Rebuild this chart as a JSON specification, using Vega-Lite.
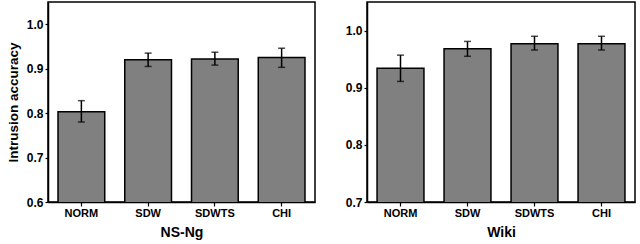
{
  "$schema": "https://vega.github.io/schema/vega-lite/v6.json",
  "padding": {"left": 5, "top": 1, "right": 1, "bottom": 0},
  "autosize": {"type": "pad"},
  "datasets": {
    "nsng": [
      {"method": "NORM", "acc": 0.803, "lo": 0.780, "hi": 0.828},
      {"method": "SDW", "acc": 0.920, "lo": 0.905, "hi": 0.935},
      {"method": "SDWTS", "acc": 0.922, "lo": 0.908, "hi": 0.937},
      {"method": "CHI", "acc": 0.925, "lo": 0.903, "hi": 0.946}
    ],
    "wiki": [
      {"method": "NORM", "acc": 0.934, "lo": 0.911, "hi": 0.957},
      {"method": "SDW", "acc": 0.968, "lo": 0.955, "hi": 0.981},
      {"method": "SDWTS", "acc": 0.977, "lo": 0.966, "hi": 0.990},
      {"method": "CHI", "acc": 0.977, "lo": 0.966, "hi": 0.990}
    ]
  },
  "config": {
    "font": "Liberation Sans",
    "view": {"stroke": "black", "strokeWidth": 1.5},
    "axis": {
      "grid": false,
      "domainColor": "black",
      "domainWidth": 1.5,
      "tickColor": "black",
      "tickWidth": 1.2,
      "labelFont": "Liberation Sans",
      "labelFontWeight": "bold",
      "labelFontSize": 11,
      "labelColor": "black",
      "titleFont": "Liberation Sans",
      "titleFontWeight": "bold",
      "titleColor": "black"
    }
  },
  "spacing": 28,
  "hconcat": [
    {
      "width": 267,
      "height": 200,
      "data": {"name": "nsng"},
      "encoding": {
        "x": {
          "field": "method", "type": "nominal",
          "sort": ["NORM", "SDW", "SDWTS", "CHI"],
          "scale": {"paddingInner": 0.3, "paddingOuter": 0.15},
          "axis": {"title": "NS-Ng", "labelAngle": 0, "titleFontSize": 14, "tickSize": 4, "labelPadding": 1, "titlePadding": 7}
        }
      },
      "layer": [
        {
          "mark": {"type": "bar", "fill": "#808080", "stroke": "black", "strokeWidth": 1.5, "clip": true},
          "encoding": {
            "y": {
              "field": "acc", "type": "quantitative",
              "scale": {"domain": [0.6, 1.05], "nice": false, "zero": false},
              "axis": {
                "title": "Intrusion accuracy",
                "titleFontSize": 13.5,
                "titlePadding": 6,
                "labelFontSize": 12,
                "values": [0.6, 0.65, 0.7, 0.75, 0.8, 0.85, 0.9, 0.95, 1.0],
                "labelExpr": "abs(datum.value*10 - round(datum.value*10)) < 0.001 ? format(datum.value, '.1f') : ''",
                "tickSize": {"condition": {"test": "abs(datum.value*10 - round(datum.value*10)) < 0.001", "value": 3}, "value": 2},
                "labelPadding": 2
              }
            }
          }
        },
        {
          "mark": {"type": "rule", "strokeWidth": 1.5, "color": "black"},
          "encoding": {"y": {"field": "lo", "type": "quantitative"}, "y2": {"field": "hi"}}
        },
        {
          "mark": {"type": "tick", "thickness": 1.5, "size": 7, "color": "black"},
          "encoding": {"y": {"field": "lo", "type": "quantitative"}}
        },
        {
          "mark": {"type": "tick", "thickness": 1.5, "size": 7, "color": "black"},
          "encoding": {"y": {"field": "hi", "type": "quantitative"}}
        }
      ]
    },
    {
      "width": 268,
      "height": 200,
      "data": {"name": "wiki"},
      "encoding": {
        "x": {
          "field": "method", "type": "nominal",
          "sort": ["NORM", "SDW", "SDWTS", "CHI"],
          "scale": {"paddingInner": 0.3, "paddingOuter": 0.15},
          "axis": {"title": "Wiki", "labelAngle": 0, "titleFontSize": 14, "tickSize": 4, "labelPadding": 1, "titlePadding": 7}
        }
      },
      "layer": [
        {
          "mark": {"type": "bar", "fill": "#808080", "stroke": "black", "strokeWidth": 1.5, "clip": true},
          "encoding": {
            "y": {
              "field": "acc", "type": "quantitative",
              "scale": {"domain": [0.7, 1.05], "nice": false, "zero": false},
              "axis": {
                "title": null,
                "labelFontSize": 12,
                "values": [0.7, 0.75, 0.8, 0.85, 0.9, 0.95, 1.0],
                "labelExpr": "abs(datum.value*10 - round(datum.value*10)) < 0.001 ? format(datum.value, '.1f') : ''",
                "tickSize": {"condition": {"test": "abs(datum.value*10 - round(datum.value*10)) < 0.001", "value": 3}, "value": 2},
                "labelPadding": 2
              }
            }
          }
        },
        {
          "mark": {"type": "rule", "strokeWidth": 1.5, "color": "black"},
          "encoding": {"y": {"field": "lo", "type": "quantitative"}, "y2": {"field": "hi"}}
        },
        {
          "mark": {"type": "tick", "thickness": 1.5, "size": 7, "color": "black"},
          "encoding": {"y": {"field": "lo", "type": "quantitative"}}
        },
        {
          "mark": {"type": "tick", "thickness": 1.5, "size": 7, "color": "black"},
          "encoding": {"y": {"field": "hi", "type": "quantitative"}}
        }
      ]
    }
  ]
}
